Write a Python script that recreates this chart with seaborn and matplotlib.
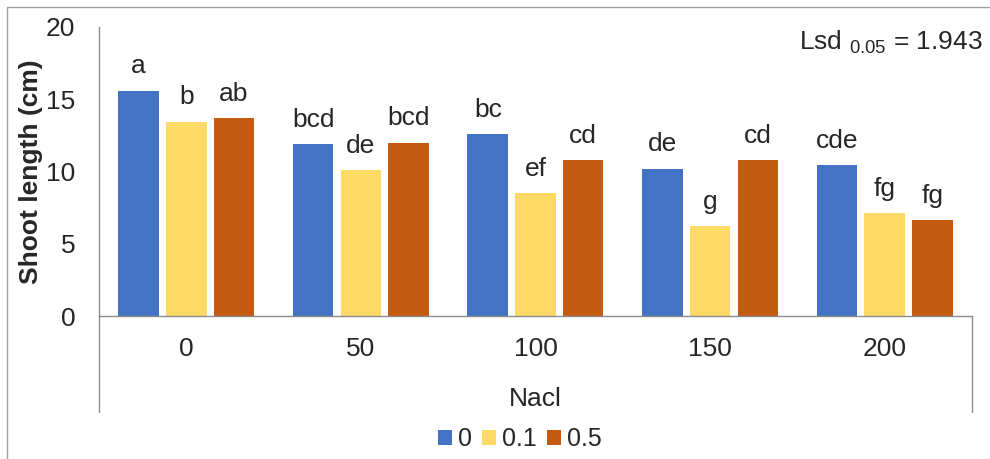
import pandas as pd
import matplotlib
matplotlib.use('Agg')
import matplotlib.pyplot as plt
from matplotlib.lines import Line2D
import seaborn as sns

# Chart data
nacl_levels = ['0', '50', '100', '150', '200']
treatments = ['0', '0.1', '0.5']
shoot_0 = [15.6, 11.9, 12.6, 10.2, 10.45]
shoot_01 = [13.45, 10.1, 8.5, 6.2, 7.1]
shoot_05 = [13.7, 12.0, 10.8, 10.8, 6.65]
letters_0 = ['a', 'bcd', 'bc', 'de', 'cde']
letters_01 = ['b', 'de', 'ef', 'g', 'fg']
letters_05 = ['ab', 'bcd', 'cd', 'cd', 'fg']
lsd_value = '1.943'

colors = ['#4472C4', '#FFD966', '#C55A11']

# long format table for seaborn
rows = []
for t, vals in zip(treatments, [shoot_0, shoot_01, shoot_05]):
    for n, v in zip(nacl_levels, vals):
        rows.append({'Nacl': n, 'treatment': t, 'length': v})
df = pd.DataFrame(rows)

sns.set_style('white')
plt.rcParams['font.family'] = ['Liberation Sans', 'DejaVu Sans']
plt.rcParams['mathtext.fontset'] = 'custom'
plt.rcParams['mathtext.rm'] = 'Liberation Sans'

fs = 19

fig = plt.figure(figsize=(9.9, 4.59), dpi=100)
ax = fig.add_axes([0.1, 0.3115, 0.8818, 0.6297])

sns.barplot(data=df, x='Nacl', y='length', hue='treatment', order=nacl_levels,
            hue_order=treatments, palette=colors, width=0.82, gap=0.15,
            saturation=1, linewidth=0, ax=ax)

ax.set_ylim(0, 20)
ax.set_yticks([0, 5, 10, 15, 20])
ax.tick_params(axis='both', length=0, labelsize=fs)
ax.tick_params(axis='y', pad=17)
ax.tick_params(axis='x', pad=15)
ax.set_ylabel('Shoot length (cm)', fontsize=fs, fontweight='bold', labelpad=2)
ax.set_xlabel('Nacl', fontsize=fs, labelpad=19)

for side in ['top', 'right']:
    ax.spines[side].set_visible(False)
for side in ['left', 'bottom']:
    ax.spines[side].set_color('#8c8c8c')
    ax.spines[side].set_linewidth(1)

# category box lines below the axis
drop = 96 / 289
for xx in [0, 1]:
    ax.add_line(Line2D([xx, xx], [0, -drop], transform=ax.transAxes,
                       color='#8c8c8c', lw=1, clip_on=False))

# significance letters
for cont, lets in zip(ax.containers, [letters_0, letters_01, letters_05]):
    for bar, lab in zip(cont, lets):
        ax.annotate(lab, (bar.get_x() + bar.get_width() / 2, bar.get_height()),
                    xytext=(0, 12.5), textcoords='offset points',
                    ha='center', va='baseline', fontsize=fs)

fig.text(983 / 990, 1 - 50 / 459, r'Lsd $_{\mathrm{0.05}}$ = ' + lsd_value,
         ha='right', va='baseline', fontsize=fs)

handles, labels = ax.get_legend_handles_labels()
ax.legend(handles, labels, loc='center', bbox_to_anchor=(519.5 / 990, 1 - 439 / 459),
          bbox_transform=fig.transFigure, ncol=3, frameon=False, fontsize=18,
          handlelength=0.56, handleheight=0.56, handletextpad=0.24,
          columnspacing=0.4, borderpad=0)

# outer frame lines
fig.add_artist(Line2D([7 / 990, 7 / 990], [0, 1 - 7 / 459], color='#a0a0a0', lw=1))
fig.add_artist(Line2D([7 / 990, 1], [1 - 7 / 459, 1 - 7 / 459], color='#a0a0a0', lw=1))

fig.savefig('out.png', dpi=100)
